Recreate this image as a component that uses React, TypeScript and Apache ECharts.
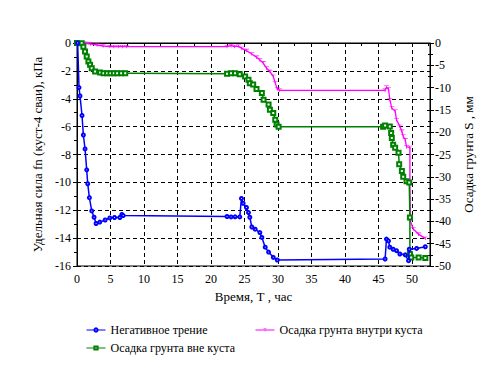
import React, { useEffect, useRef } from "react";
import * as echarts from "echarts";

// Негативное трение (left axis, кПа)
const frictionTime = [0.1, 0.3, 0.45, 0.75, 0.95, 1.2, 1.45, 1.6, 1.85, 2.2, 2.55, 2.85, 3.4, 4.2, 4.9, 5.6, 6.4, 6.7, 6.9, 22.4, 23.0, 23.6, 24.3, 24.55, 24.8, 25.3, 25.6, 25.8, 26.1, 26.6, 27.3, 27.6, 28.1, 28.6, 29.3, 29.9, 46.0, 46.2, 46.5, 46.7, 47.2, 47.7, 48.2, 49.0, 49.5, 49.6, 50.7, 52.0];
const frictionValue = [0, -3.2, -3.8, -5.2, -6.6, -7.6, -9.1, -10.1, -11.1, -12.05, -12.5, -12.95, -12.85, -12.7, -12.55, -12.52, -12.52, -12.3, -12.38, -12.45, -12.48, -12.47, -12.48, -11.15, -11.5, -11.8, -12.17, -12.5, -13.2, -13.36, -13.6, -13.95, -14.65, -15.0, -15.38, -15.57, -15.5, -14.07, -14.2, -14.65, -14.8, -14.9, -15.14, -15.2, -15.62, -14.8, -14.74, -14.62];

// Осадка грунта внутри куста (right axis, мм)
const insideTime = [0.9, 1.3, 2.0, 3.0, 3.9, 4.9, 5.5, 6.2, 6.8, 7.4, 22.4, 23.0, 23.5, 24.1, 24.6, 25.3, 26.1, 26.8, 27.3, 27.8, 28.3, 28.8, 29.3, 29.6, 29.9, 30.2, 46.0, 46.2, 46.5, 46.7, 47.0, 47.5, 47.7, 48.2, 48.5, 48.7, 49.0, 49.2, 49.7, 49.7, 49.8, 50.2, 51.0, 52.0];
const insideSettle = [0, -0.1, -0.22, -0.45, -0.67, -0.82, -0.82, -0.82, -0.82, -0.82, -0.82, -0.6, -0.82, -0.7, -1.2, -1.7, -2.46, -3.2, -3.8, -4.5, -5.65, -6.4, -7.5, -9.0, -10.3, -10.6, -10.6, -9.9, -10.3, -12.7, -14.6, -15.3, -17.2, -18.7, -19.8, -20.9, -21.7, -23.3, -23.4, -31.5, -40.0, -41.7, -42.9, -43.8];

// Осадка грунта вне куста (right axis, мм)
const outsideTime = [0, 0.7, 0.95, 1.2, 1.45, 1.7, 1.95, 2.2, 2.7, 3.45, 3.95, 4.5, 5.0, 5.5, 6.0, 6.6, 7.2, 22.4, 23.0, 23.6, 24.3, 25.1, 25.6, 25.8, 26.3, 26.8, 27.6, 27.85, 28.6, 28.8, 29.3, 29.6, 29.8, 30.1, 45.7, 46.0, 46.7, 46.9, 47.0, 47.2, 47.5, 48.0, 48.1, 48.5, 48.7, 49.2, 49.6, 49.7, 49.7, 49.9, 51.0, 52.0];
const outsideSettle = [0, -0.07, -0.82, -1.93, -3.05, -4.17, -4.9, -5.65, -6.4, -6.62, -6.77, -6.77, -6.77, -6.77, -6.77, -6.77, -6.77, -6.92, -6.8, -6.8, -7.0, -7.5, -8.26, -9.0, -9.3, -10.3, -11.2, -12.7, -13.8, -14.95, -15.7, -17.2, -18.3, -18.8, -18.8, -18.5, -18.7, -20.2, -21.3, -22.8, -23.5, -24.6, -27.2, -28.7, -30.0, -31.0, -31.3, -39.1, -47.3, -48.1, -48.1, -48.2];

const seriesNames = ["Негативное трение", "Осадка грунта внутри куста", "Осадка грунта вне куста"];

const zip = (xs: number[], ys: number[]) => xs.map((x, i) => [x, ys[i]]);

export default function App() {
  const ref = useRef<HTMLDivElement>(null);
  useEffect(() => {
    const chart = echarts.init(ref.current!, null, { renderer: "svg" });
    const font = "Times New Roman, Liberation Serif, serif";
    const txt = { fontFamily: font, fontSize: 12, color: "#000" };
    const dashed = { show: true, lineStyle: { color: "#000", type: [4, 3] as any, width: 1 } };
    const axisLine = { show: true, lineStyle: { color: "#000", width: 1 } };
    const legendBase = {
      orient: "horizontal" as const,
      padding: 0,
      itemWidth: 19,
      itemHeight: 4,
      lineStyle: { width: 1 },
      itemStyle: { borderWidth: 1 },
      textStyle: { fontFamily: font, fontSize: 12, color: "#000" },
      selectedMode: false,
    };
    chart.setOption({
      animation: false,
      backgroundColor: "#fff",
      textStyle: { fontFamily: font },
      grid: { left: 77, right: 59, top: 43, bottom: 101, show: true, borderColor: "#000", borderWidth: 1 },
      legend: [
        { ...legendBase, data: [seriesNames[0]], left: 86, top: 324 },
        { ...legendBase, data: [seriesNames[1]], left: 255, top: 324 },
        { ...legendBase, data: [seriesNames[2]], left: 86, top: 342 },
      ],
      xAxis: {
        type: "value",
        min: 0,
        max: 52.7,
        interval: 5,
        name: "Время, Т , час",
        nameLocation: "middle",
        nameGap: 20,
        nameTextStyle: { ...txt, fontSize: 13 },
        axisLine,
        axisTick: { show: true, length: 4, lineStyle: { color: "#000" } },
        minorTick: { show: true, splitNumber: 2, length: 3, lineStyle: { color: "#000" } },
        axisLabel: { ...txt, margin: 7, showMaxLabel: false },
        splitLine: dashed,
      },
      yAxis: [
        {
          type: "value",
          position: "left",
          min: -16,
          max: 0,
          interval: 2,
          name: "Удельная сила fn (куст-4 сваи), кПа",
          nameLocation: "middle",
          nameRotate: 90,
          nameGap: 24,
          nameTextStyle: { ...txt, fontSize: 13 },
          axisLine,
          axisTick: { show: true, length: 4, lineStyle: { color: "#000" } },
          minorTick: { show: true, splitNumber: 2, length: 3, lineStyle: { color: "#000" } },
          axisLabel: { ...txt, margin: 6 },
          splitLine: dashed,
        },
        {
          type: "value",
          position: "right",
          min: -50,
          max: 0,
          interval: 5,
          name: "Осадка грунта S , мм",
          nameLocation: "middle",
          nameRotate: 90,
          nameGap: 28,
          nameTextStyle: { ...txt, fontSize: 13 },
          axisLine,
          axisTick: { show: true, length: 4, lineStyle: { color: "#000" } },
          minorTick: { show: true, splitNumber: 2, length: 3, lineStyle: { color: "#000" } },
          axisLabel: { ...txt, margin: 5 },
          splitLine: { show: false },
        },
        {
          type: "value",
          position: "right",
          min: -50,
          max: 0,
          interval: 5,
          axisLine: { show: false },
          axisTick: { show: true, inside: true, length: 3, lineStyle: { color: "#000" } },
          minorTick: { show: true, splitNumber: 2, length: 2, lineStyle: { color: "#000" } },
          axisLabel: { show: false },
          splitLine: { show: false },
        },
      ],
      series: [
        {
          name: seriesNames[0],
          type: "line",
          yAxisIndex: 0,
          data: zip(frictionTime, frictionValue),
          symbol: "emptyCircle",
          symbolSize: 3,
          showAllSymbol: true,
          lineStyle: { color: "#0000ff", width: 1.5 },
          itemStyle: { color: "#0000ff", borderWidth: 1 },
          z: 4,
        },
        {
          name: seriesNames[1],
          type: "line",
          yAxisIndex: 1,
          data: zip(insideTime, insideSettle),
          symbol: "path://M0,0 H7 V1 H4 V6 H3 V1 H0 Z",
          symbolSize: [5, 4],
          symbolKeepAspect: true,
          showAllSymbol: true,
          lineStyle: { color: "#ff00ff", width: 1.3 },
          itemStyle: { color: "#ff00ff" },
          z: 2,
        },
        {
          name: seriesNames[2],
          type: "line",
          yAxisIndex: 1,
          data: zip(outsideTime, outsideSettle),
          symbol: "emptyRect",
          symbolSize: 4,
          showAllSymbol: true,
          lineStyle: { color: "#008000", width: 1.5 },
          itemStyle: { color: "#008000", borderWidth: 1 },
          z: 3,
        },
      ],
    });
    return () => chart.dispose();
  }, []);
  return (
    <div
      ref={ref}
      style={{ position: "absolute", left: 0, top: 0, width: 489, height: 367, background: "#fff" }}
    />
  );
}
